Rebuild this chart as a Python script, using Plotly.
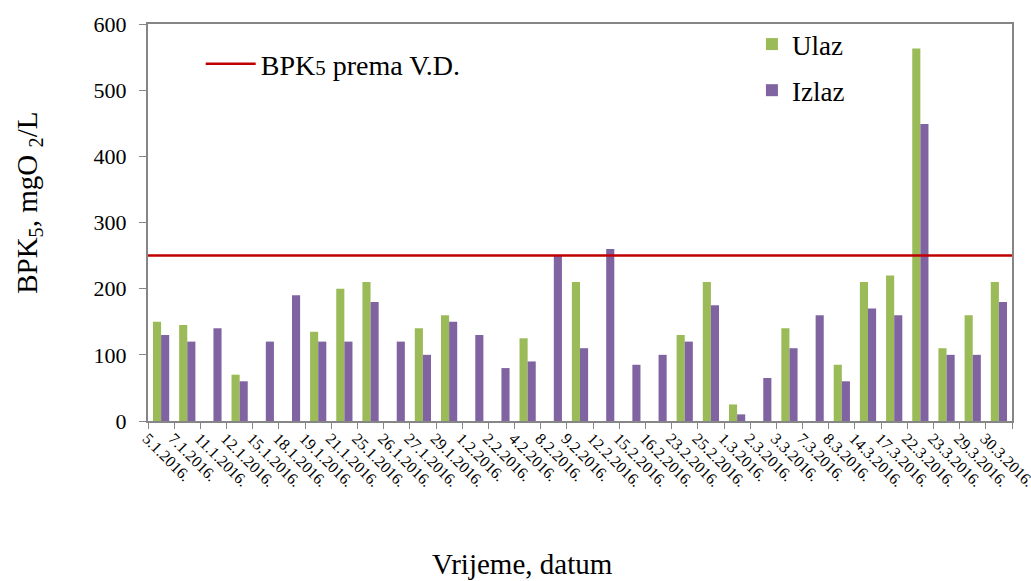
import plotly.graph_objects as go

# sampling dates
dates = [
    "5.1.2016.", "7.1.2016.", "11.1.2016.", "12.1.2016.", "15.1.2016.", "18.1.2016.",
    "19.1.2016.", "21.1.2016.", "25.1.2016.", "26.1.2016.", "27.1.2016.", "29.1.2016.",
    "1.2.2016.", "2.2.2016.", "4.2.2016.", "8.2.2016.", "9.2.2016.", "12.2.2016.",
    "15.2.2016.", "16.2.2016.", "23.2.2016.", "25.2.2016.", "1.3.2016.", "2.3.2016.",
    "3.3.2016.", "7.3.2016.", "8.3.2016.", "14.3.2016.", "17.3.2016.", "22.3.2016.",
    "23.3.2016.", "29.3.2016.", "30.3.2016.",
]
ulaz = [150, 145, None, 70, None, None, 135, 200, 210, None, 140, 160,
        None, None, 125, None, 210, None, None, None, 130, 210, 25, None,
        140, None, 85, 210, 220, 563, 110, 160, 210]
izlaz = [130, 120, 140, 60, 120, 190, 120, 120, 180, 120, 100, 150,
         130, 80, 90, 250, 110, 260, 85, 100, 120, 175, 10, 65,
         110, 160, 60, 170, 160, 449, 100, 100, 180]
limit_vd = 250

FONT = "Liberation Serif"
GREEN = "#9BBB59"
PURPLE = "#8064A2"
RED = "#C00000"
GRID = "#868686"

fig = go.Figure()

# dummy trace so the limit line gets a legend entry
fig.add_trace(go.Scatter(
    x=[None], y=[None], mode="lines",
    name="BPK<span style='font-size:21px'>5</span> prema V.D.",
    line=dict(color=RED, width=2.5), legend="legend", showlegend=True,
))

fig.add_trace(go.Bar(
    x=dates, y=ulaz, name="Ulaz", marker=dict(color=GREEN, line=dict(width=0)),
    legend="legend2", legendgroup="u",
))
fig.add_trace(go.Bar(
    x=dates, y=izlaz, name="Izlaz", marker=dict(color=PURPLE, line=dict(width=0)),
    legend="legend2", legendgroup="i",
))

fig.add_hline(y=limit_vd, line=dict(color=RED, width=2.5), layer="above")

# axis titles as annotations, the originals are not centred on the plot
fig.add_annotation(
    text="Vrijeme, datum", xref="paper", yref="paper", x=0.433, y=-0.36,
    xanchor="center", yanchor="middle", showarrow=False,
    font=dict(size=29, family=FONT, color="black"),
)
fig.add_annotation(
    text="BPK<sub>5</sub>, mgO <sub>2</sub>/L", xref="paper", yref="paper",
    x=-0.138, y=0.549, xanchor="center", yanchor="middle", textangle=-90,
    showarrow=False, font=dict(size=29, family=FONT, color="black"),
)

fig.update_layout(
    width=1031, height=581,
    margin=dict(l=148, r=19, t=24, b=160),
    paper_bgcolor="white", plot_bgcolor="white",
    font=dict(family=FONT, color="black", size=20),
    barmode="group", bargap=0.38, bargroupgap=0,
    legend=dict(
        x=0.061, y=0.962, xanchor="left", yanchor="top",
        bgcolor="rgba(0,0,0,0)", font=dict(size=28, family=FONT),
        itemwidth=50,
    ),
    legend2=dict(
        x=0.699, y=1.01, xanchor="left", yanchor="top",
        bgcolor="rgba(0,0,0,0)", font=dict(size=27, family=FONT),
        tracegroupgap=8, traceorder="grouped", itemwidth=30,
    ),
    xaxis=dict(
        type="category", tickangle=45, tickson="boundaries", automargin=False,
        ticks="outside", ticklen=6, tickcolor=GRID,
        showline=True, linecolor=GRID, linewidth=2, mirror=True,
        showgrid=False, tickfont=dict(size=16, family=FONT),
        ticklabelshift=-14,
    ),
    yaxis=dict(
        range=[0, 600], dtick=100, ticks="outside", ticklen=7, tickcolor=GRID,
        showline=True, linecolor=GRID, linewidth=2, mirror=True, automargin=False,
        showgrid=False, zeroline=False, tickfont=dict(size=22, family=FONT),
        ticklabelstandoff=8,
    ),
)

fig.write_html(
    "out.html",
    config={"displayModeBar": False},
    post_script="document.body.style.margin='0';document.body.style.overflow='hidden';",
)
